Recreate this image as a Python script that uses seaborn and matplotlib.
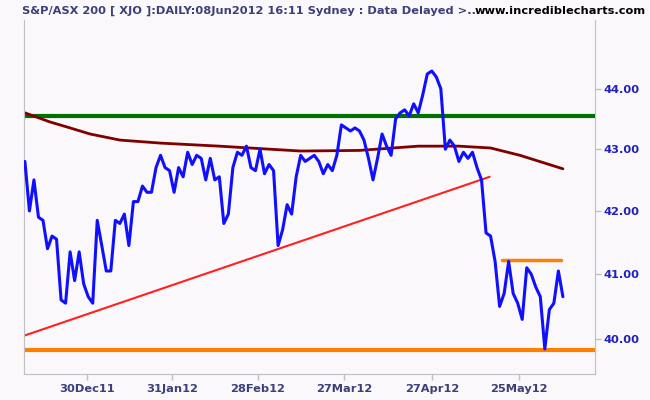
import matplotlib
matplotlib.use("Agg")
import matplotlib.pyplot as plt
import seaborn as sns
import numpy as np
import pandas as pd
from matplotlib.ticker import FixedLocator, FixedFormatter, NullLocator

close = [42.8,42.0,42.5,41.9,41.85,41.4,41.6,41.55,40.6,40.55,
         41.35,40.9,41.35,40.85,40.65,40.55,41.85,41.45,41.05,41.05,
         41.85,41.8,41.95,41.45,42.15,42.15,42.4,42.3,42.3,42.7,
         42.9,42.7,42.65,42.3,42.7,42.55,42.95,42.75,42.9,42.85,
         42.5,42.85,42.5,42.55,41.8,41.95,42.7,42.95,42.9,43.05,
         42.7,42.65,43.0,42.6,42.75,42.65,41.45,41.7,42.1,41.95,
         42.55,42.9,42.8,42.85,42.9,
         42.8,42.6,42.75,42.65,42.9,43.4,43.35,43.3,43.35,43.3,
         43.15,42.85,42.5,42.85,43.25,43.05,42.9,43.5,43.6,43.65,
         43.55,43.75,43.6,43.9,44.25,44.3,44.2,44.0,43.0,43.15,
         43.05,42.8,42.95,42.85,42.95,42.7,42.5,41.65,41.6,41.2,
         40.5,40.7,41.2,40.7,40.55,40.3,41.1,41.0,40.8,40.65,
         39.85,40.45,40.55,41.05,40.65]
ma_idx = [0,5.5,10,14.4,21,30,43,61,74,87,96,103,109.5,119]
ma_val = [43.6,43.45,43.35,43.25,43.15,43.1,43.05,42.97,42.98,43.05,43.05,43.02,42.9,42.68]
green_level = 43.55
support_level = 39.83
resist_level = 41.22
resist_span = [105.5,118.5]
trend_idx = [-0.2,102.8]
trend_val = [40.05,42.55]
tick_pos = [13.7,32.5,51.5,70.6,90.0,109.3]
tick_lab = ["30Dec11","31Jan12","28Feb12","27Mar12","27Apr12","25May12"]
y_ticks = [40,41,42,43,44]

bg = "#faf8fa"
sns.set_style("white")
fig = plt.figure(figsize=(6.5,4.0), dpi=100, facecolor=bg)
ax = fig.add_axes([24/650, 26/400, (595-24)/650, (380-26)/400])
ax.set_facecolor(bg)
ax.set_yscale("log")

df = pd.DataFrame({"i": np.arange(len(close)), "c": close})
ax.axhline(green_level, color="#007000", lw=3, zorder=1)
ax.axhline(support_level, color="#ff8000", lw=3, zorder=1)
ax.plot(resist_span, [resist_level]*2, color="#ff8000", lw=2.5, zorder=1)
ax.plot(trend_idx, trend_val, color="#ff2020", lw=1.5, zorder=2)
sns.lineplot(x=ma_idx, y=ma_val, ax=ax, color="#800000", lw=2.0, zorder=2)
sns.lineplot(data=df, x="i", y="c", ax=ax, color="#1010ff", lw=2.2, zorder=3)

ax.set_xlim(-0.2, 126.1)
ax.set_ylim(39.47, 45.17)
ax.yaxis.set_major_locator(FixedLocator(y_ticks))
ax.yaxis.set_major_formatter(FixedFormatter([f"{v:.2f}" for v in y_ticks]))
ax.yaxis.set_minor_locator(NullLocator())
ax.yaxis.tick_right()
ax.set_xticks(tick_pos)
ax.set_xticklabels(tick_lab)
ax.set_xlabel(""); ax.set_ylabel("")
ax.tick_params(axis="y", colors="#c0c0c0", labelcolor="#2020c0", length=4, width=1, labelsize=8.2, pad=2, right=True)
ax.tick_params(axis="x", colors="#c0c0c0", labelcolor="#3b3f7a", length=4, width=1, labelsize=8.2, pad=3, bottom=True)
for l in ax.get_xticklabels() + ax.get_yticklabels():
    l.set_fontweight("bold")
for s in ["left","bottom","right"]:
    ax.spines[s].set_color("#c0c0c0")
ax.spines["top"].set_visible(False)

fig.text(22/650, 1-11/400, "S&P/ASX 200 [ XJO ]:DAILY:08Jun2012 16:11 Sydney : Data Delayed >..",
         color="#3b3f7a", fontsize=8.2, fontweight="bold", va="center")
fig.text(1-4/650, 1-11/400, "www.incrediblecharts.com", color="black", fontsize=8.2,
         fontweight="bold", va="center", ha="right")
fig.savefig("out.png", dpi=100, facecolor=bg)
